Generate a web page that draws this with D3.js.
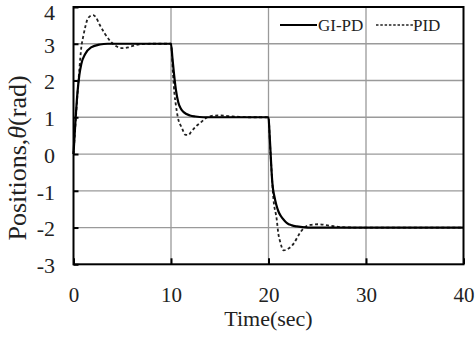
<!DOCTYPE html>
<html>
<head>
<meta charset="utf-8">
<script src="https://cdn.jsdelivr.net/npm/d3@7"></script>
<style>
  html, body { margin: 0; padding: 0; background: #fff; }
  svg { display: block; }
</style>
</head>
<body>
<svg id="chart" width="475" height="338"></svg>
<script>
// ---- data ----
const xTicks = [0, 10, 20, 30, 40];
const yTicks = [-3, -2, -1, 0, 1, 2, 3, 4];

const gipdTime  = [0, 0.2, 0.4, 0.6, 0.8, 1.2, 1.8, 2.7, 3.5, 10,
                   10.15, 10.3, 10.5, 10.75, 11.0, 11.3, 11.95, 12.5, 13.3, 20,
                   20.1, 20.2, 20.3, 20.4, 20.6, 20.8, 21.0, 21.25, 21.6, 21.9, 22.4, 22.9, 24, 40];
const gipdValue = [0, 0.9, 1.65, 2.15, 2.45, 2.72, 2.9, 2.98, 3.0, 3.0,
                   2.6, 2.2, 1.75, 1.4, 1.24, 1.14, 1.05, 1.02, 1.0, 1.0,
                   0.6, 0.1, -0.4, -0.8, -1.15, -1.38, -1.55, -1.68, -1.8, -1.88, -1.94, -1.97, -2.0, -2.0];

const pidTime  = [0, 0.2, 0.4, 0.6, 0.8, 1.0, 1.2, 1.5, 2.0, 2.3, 2.7, 3.2, 3.75, 4.4, 5.0, 5.6, 6.2, 7, 8, 10,
                  10.2, 10.35, 10.5, 10.7, 11.1, 11.5, 11.8, 12.05, 12.55, 13.05, 13.6, 14.2, 15, 16, 17, 18, 20,
                  20.15, 20.3, 20.5, 20.85, 21.0, 21.2, 21.55, 22.05, 22.6, 23.1, 23.6, 24.3, 25.1, 26.3, 27.5, 29, 40];
const pidValue = [0, 0.8, 1.6, 2.3, 2.9, 3.2, 3.45, 3.7, 3.78, 3.72, 3.51, 3.28, 3.08, 2.93, 2.88, 2.9, 2.95, 2.99, 3.0, 3.0,
                  2.2, 1.65, 1.33, 1.0, 0.72, 0.52, 0.52, 0.6, 0.75, 0.86, 0.98, 1.04, 1.05, 1.03, 1.01, 1.0, 1.0,
                  0.3, -0.4, -1.2, -1.79, -2.15, -2.39, -2.62, -2.57, -2.43, -2.2, -2.02, -1.93, -1.91, -1.95, -1.99, -2.0, -2.0];

const seriesNames = ["GI-PD", "PID"];

// ---- drawing ----
const svg = d3.select("#chart");
const FONT = "'Liberation Serif', 'Times New Roman', serif";
const L = 73.5, R = 463.5, T = 7, B = 264.3;

const x = d3.scaleLinear().domain([0, 40]).range([L, R]);
const y = d3.scaleLinear().domain([-3, 4]).range([B, T]);

svg.append("rect").attr("width", 475).attr("height", 338).attr("fill", "#fff");

// grid
const grid = svg.append("g").attr("stroke", "#9a9a9a").attr("stroke-width", 1.3);
grid.selectAll("line.v").data(xTicks.slice(1, -1)).join("line")
  .attr("x1", d => x(d)).attr("x2", d => x(d)).attr("y1", T).attr("y2", B);
grid.selectAll("line.h").data(yTicks.slice(1, -1)).join("line")
  .attr("y1", d => y(d)).attr("y2", d => y(d)).attr("x1", L).attr("x2", R);

// axes
const fmt = d => String(d);
const xAxis = svg.append("g").attr("transform", `translate(0,${B})`)
  .call(d3.axisBottom(x).tickValues(xTicks).tickFormat(fmt)
    .tickSizeInner(-6).tickSizeOuter(0).tickPadding(22.5));
const yAxis = svg.append("g").attr("transform", `translate(${L},0)`)
  .call(d3.axisLeft(y).tickValues(yTicks).tickFormat(fmt)
    .tickSizeInner(-5).tickSizeOuter(0).tickPadding(18.5));
[xAxis, yAxis].forEach(a => {
  a.select(".domain").remove();
  a.selectAll(".tick line").attr("stroke", "#000").attr("stroke-width", 2);
  a.selectAll("text").attr("fill", "#222").style("font-family", FONT).style("font-size", "22px");
});
xAxis.selectAll("text").style("font-size", "21px");
yAxis.selectAll("text").attr("dy", d => d === 4 ? "0.56em" : "0.38em");

// frame
svg.append("rect").attr("x", L).attr("y", T).attr("width", R - L).attr("height", B - T)
  .attr("fill", "none").attr("stroke", "#000").attr("stroke-width", 2);

// lines
const line = d3.line().curve(d3.curveMonotoneX);
const gipdPts = gipdTime.map((t, i) => [x(t), y(gipdValue[i])]);
const pidPts = pidTime.map((t, i) => [x(t), y(pidValue[i])]);

svg.append("path").attr("d", line(pidPts)).attr("fill", "none")
  .attr("stroke", "#222").attr("stroke-width", 1.8).attr("stroke-dasharray", "3,2.5");
svg.append("path").attr("d", line(gipdPts)).attr("fill", "none")
  .attr("stroke", "#000").attr("stroke-width", 2.2);

// legend
const leg = svg.append("g").style("font-family", FONT).style("font-size", "17px").attr("fill", "#222");
leg.append("line").attr("x1", 280).attr("x2", 317).attr("y1", 25).attr("y2", 25)
  .attr("stroke", "#000").attr("stroke-width", 2);
leg.append("text").attr("x", 318).attr("y", 30.7).text(seriesNames[0]);
leg.append("line").attr("x1", 376).attr("x2", 413).attr("y1", 25).attr("y2", 25)
  .attr("stroke", "#222").attr("stroke-width", 1.6).attr("stroke-dasharray", "2.5,1.8");
leg.append("text").attr("x", 413).attr("y", 30.7).text(seriesNames[1]);

// axis titles
svg.append("text").attr("x", (L + R) / 2).attr("y", 326)
  .attr("text-anchor", "middle").attr("fill", "#222")
  .style("font-family", FONT).style("font-size", "22px").text("Time(sec)");

const yt = svg.append("text").attr("transform", "translate(26,158) rotate(-90)")
  .attr("text-anchor", "middle").attr("fill", "#222")
  .style("font-family", FONT).style("font-size", "26px");
yt.append("tspan").text("Positions,");
yt.append("tspan").style("font-style", "italic").text("θ");
yt.append("tspan").text("(rad)");
</script>
</body>
</html>
